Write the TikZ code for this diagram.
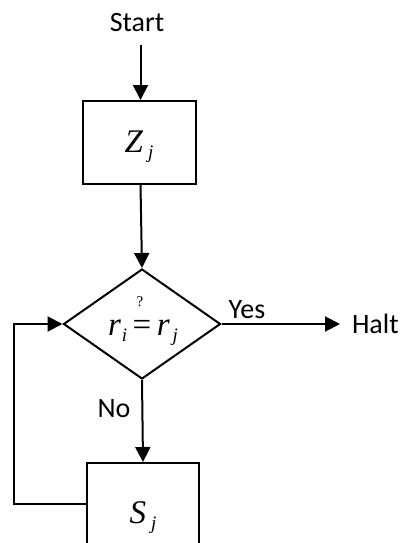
\documentclass[tikz,border=0pt]{standalone}
\usepackage{fontspec}
\setmainfont{Carlito}
\newfontfamily\eqfont{Liberation Serif}
\usetikzlibrary{shapes.geometric,arrows.meta}
% italic symbol with a lowered italic index, equation-editor style
\newcommand\eqsym[3][3pt]{{\eqfont\itshape\fontsize{33}{33}\selectfont #2\kern#1\raisebox{-6pt}{\fontsize{19}{19}\selectfont #3}}}
\begin{document}
\begin{tikzpicture}[x=1pt,y=-1pt,line width=2pt,
  lbl/.style={font=\fontsize{28}{28}\selectfont, inner sep=0},
  procbox/.style={draw, minimum width=113pt, minimum height=83pt, inner sep=0,
    text height=19pt, text depth=0pt},
  decision/.style={draw, diamond, minimum width=157pt, minimum height=110pt, inner sep=0, aspect=1.43},
  arr/.style={-{Triangle[length=15pt,width=15pt]}}]
\useasboundingbox (0,0) rectangle (402,543);
\clip (0,0) rectangle (402,543);

% labels
\node[lbl, anchor=base] (start) at (137,32) {Start};
\node[lbl, anchor=base west] (halt) at (351,333) {Halt};
\node[lbl, anchor=base] (yes) at (247,318) {Yes};
\node[lbl, anchor=base] (no) at (114,417) {No};

% blocks
\node[procbox] (z) at (139,142.5) {\eqsym[5pt]{Z}{j}};
\node[decision] (d) at (142,324) {};
\node[anchor=base, inner sep=0] (eq) at (143,335)
  {\eqsym[1pt]{r}{i}{\eqfont\fontsize{33}{33}\selectfont\,=\,}\eqsym[3pt]{r}{j}};
\node[inner sep=0] (q) at (140,302) {\eqfont\fontsize{15}{15}\selectfont ?};
\node[procbox, minimum width=112pt, minimum height=102pt] (s) at (143,514) {\eqsym[5pt]{S}{j}};

% connectors
\coordinate (s0) at (140.5,45);
\coordinate (l0) at (14,504);
\draw[arr] (s0) -- (s0 |- z.north);
\draw[arr] (s0 |- z.south) -- (d.north);
\draw[arr, shorten >=11pt] (d.east) -- (d.east -| halt.west);
\draw[arr] (d.south) -- (s.north);
\draw[arr] (s.west |- l0) -- (l0) |- (d.west);
\end{tikzpicture}
\end{document}
